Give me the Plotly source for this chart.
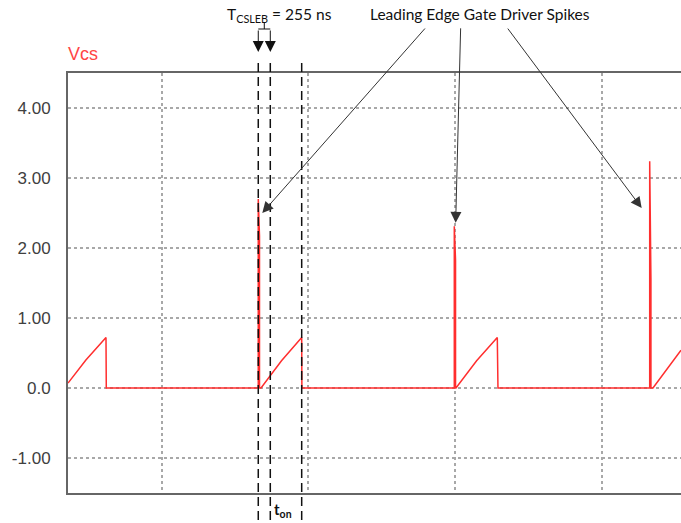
import plotly.graph_objects as go

# ---- data (time in arbitrary units, grid every 3 units; voltage in V) ----
time = [1.084, 1.45, 1.861, 1.867,
        4.975, 4.975, 5.0, 5.0, 5.031, 5.45, 5.863, 5.867,
        8.984, 8.984, 9.009, 9.009, 9.018, 9.44, 9.863, 9.877,
        12.98, 12.98, 13.005, 13.005, 13.047, 13.62]
vcs = [0.07, 0.40, 0.72, 0.0,
       0.0, 2.70, 2.17, 0.0, 0.0, 0.39, 0.72, 0.0,
       0.0, 2.31, 1.83, 0.0, 0.0, 0.39, 0.72, 0.0,
       0.0, 3.24, 1.55, 0.0, 0.0, 0.54]

y_tickvals = [-1, 0, 1, 2, 3, 4]
y_ticktext = ["-1.00", "0.0", "1.00", "2.00", "3.00", "4.00"]

spike_times = [4.975, 8.984, 12.98]
tcsleb = 0.246          # blanking time marker width
ton_end = 5.863         # end of on-time marker
arrow_tip_x = [5.057, 9.012, 12.816]
arrow_tip_y = [2.50, 2.36, 2.57]
arrow_tail_px = [(164, -186), (5, -196), (-135, -181)]

X0, X1 = 1.084, 13.62
Y0, Y1 = -1.5, 4.5

# ---- layout geometry ----
W, H = 681, 523
ML, MR, MT, MB = 68, 0, 73, 30
PW, PH = W - ML - MR, H - MT - MB

def px_x(px):
    return (px - ML) / PW

def px_y(py):
    return (H - MB - py) / PH

def data_x(x):
    return (x - X0) / (X1 - X0)

fig = go.Figure()
fig.add_trace(go.Scatter(x=time, y=vcs, mode="lines",
                         line=dict(color="#ff2e2e", width=1.5),
                         hoverinfo="skip"))

grid = dict(showgrid=True, gridcolor="#a8a8a8", griddash="dot", gridwidth=1.5,
            zeroline=False, showline=True, linecolor="#666666", linewidth=2)

fig.update_layout(
    width=W, height=H,
    margin=dict(l=ML, r=MR, t=MT, b=MB, pad=0),
    plot_bgcolor="white", paper_bgcolor="white",
    showlegend=False,
    xaxis=dict(range=[X0, X1], tick0=0, dtick=3, showticklabels=False,
               ticks="", mirror=True, **grid),
    yaxis=dict(range=[Y0, Y1], tickvals=y_tickvals, ticktext=y_ticktext,
               ticks="", mirror=False, ticklabelstandoff=12,
               tickfont=dict(family="Liberation Sans", size=17, color="#404040"),
               **grid),
)

# dashed vertical markers
marker_x = [spike_times[0], spike_times[0] + tcsleb, ton_end]
for mx in marker_x:
    fig.add_shape(type="line", xref="paper", yref="paper",
                  x0=data_x(mx), x1=data_x(mx), y0=px_y(63), y1=px_y(525),
                  line=dict(color="#111111", width=1.5, dash="9px,5px"))

# bracket for T_CSLEB
xa, xb = data_x(marker_x[0]), data_x(marker_x[1])
xm = (xa + xb) / 2
yb = px_y(29)
fig.add_shape(type="path", xref="paper", yref="paper",
              path=f"M{xa},{yb} L{xb},{yb} M{xm},{yb} L{xm},{px_y(22)}",
              line=dict(color="#111111", width=1))
for xx in (xa, xb):
    fig.add_annotation(xref="paper", yref="paper", x=xx, y=px_y(52),
                       ax=0, ay=-23, text="", showarrow=True,
                       arrowhead=2, arrowsize=2.2, arrowwidth=1,
                       arrowcolor="#111111", standoff=0)

# spike arrows
for tx, ty, (dx, dy) in zip(arrow_tip_x, arrow_tip_y, arrow_tail_px):
    fig.add_annotation(xref="x", yref="y", x=tx, y=ty, ax=dx, ay=dy,
                       text="", showarrow=True, arrowhead=2, arrowsize=2.2,
                       arrowwidth=1, arrowcolor="#333333", standoff=0)

txt_font = dict(family="Lato", size=15.5, color="#111111")
fig.add_annotation(xref="paper", yref="paper", x=px_x(279), y=px_y(15),
                   text="T<sub>CSLEB</sub> = 255 ns", showarrow=False,
                   xanchor="center", yanchor="middle", font=txt_font)
fig.add_annotation(xref="paper", yref="paper", x=px_x(480), y=px_y(14),
                   text="Leading Edge Gate Driver Spikes", showarrow=False,
                   xanchor="center", yanchor="middle", font=txt_font)
fig.add_annotation(xref="paper", yref="paper", x=px_x(283), y=px_y(510),
                   text="<b>t<sub>on</sub></b>", showarrow=False,
                   xanchor="center", yanchor="middle",
                   font=dict(family="Lato", size=15, color="#111111"))
fig.add_annotation(xref="paper", yref="paper", x=0, y=px_y(54),
                   text="Vcs", showarrow=False, xanchor="left", yanchor="middle",
                   xshift=-2,
                   font=dict(family="Liberation Sans", size=18, color="#ff4545"))

fig.write_html("out.html", config={"displayModeBar": False},
               post_script="document.body.style.margin='0px';document.body.style.overflow='hidden';")
